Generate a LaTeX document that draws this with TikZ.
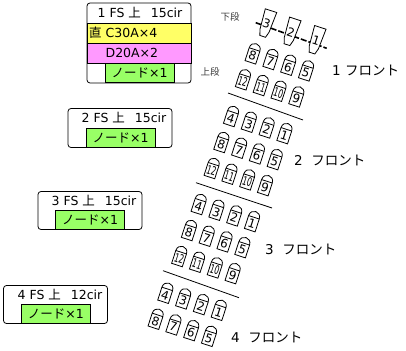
\documentclass[tikz,border=0pt]{standalone}
\usepackage{fontspec}
\setmainfont{DejaVu Sans}
\newfontfamily\jpfont{Noto Sans CJK JP}
\newcommand{\jp}[1]{{\jpfont #1}}
\newcommand{\seatnum}[1]{\ifnum#1>9 \scalebox{0.62}[1]{#1}\else #1\fi}
\tikzset{
  outerbox/.style={draw, rounded corners=3pt, minimum width=104pt, minimum height=#1, inner sep=0pt, line width=0.8pt},
  headtext/.style={font=\fontsize{12.5}{13}\selectfont, inner sep=0pt},
  rowbox/.style={draw, fill=#1, minimum width=104pt, minimum height=20pt, inner sep=0pt, text width=100pt, align=left, font=\fontsize{12.5}{13}\selectfont, line width=0.7pt},
  nodebox/.style={draw, fill=green1, minimum width=69pt, minimum height=19pt, inner sep=0pt, font=\fontsize{12.5}{13}\selectfont, line width=0.7pt},
  frontlabel/.style={font=\fontsize{13.5}{14}\selectfont, inner sep=0pt},
  steplabel/.style={font=\fontsize{9.5}{10}\selectfont, inner sep=0pt, text=black!75},
  pics/seat/.style={code={
      \draw [fill=white, line width=0.8pt] (-5.6, 9.5) -- (-5.6, -4) .. controls (-5.6, -12) and (5.6, -12) .. (5.6, -4) -- (5.6, 9.5) -- cycle;
      \draw [line width=0.8pt] (-5.6, -4) -- (5.6, -4);
      \node (-num) [transform shape, inner sep=0pt, font=\fontsize{12}{13}\selectfont] at (0, 2.5) {\seatnum{#1}};
  }},
  pics/topseat/.style={code={
      \draw [fill=white, line width=0.8pt] (-6, -14) -- (6, -14) -- (4.8, 7) -- (3, 13) -- (-3, 13) -- (-4.8, 7) -- cycle;
      \node (-num) [transform shape, inner sep=0pt, font=\fontsize{12}{13}\selectfont] at (0, 0) {#1};
  }},
}
\definecolor{green1}{HTML}{99FF66}
\definecolor{yellow1}{HTML}{FFFF66}
\definecolor{magenta1}{HTML}{FF99FF}
\begin{document}
\begin{tikzpicture}[x=1pt, y=-1pt]
  \useasboundingbox (0, 0) rectangle (406, 350);
  % circuit boxes
  \node (box1) [outerbox=80pt] at (139, 43) {};
  \node (head1) [headtext] at (140, 13) {1 FS \jp{上}\ \ \,15cir};
  \node (row1a) [rowbox=yellow1] at (139, 33) {\jp{直} C30A×4};
  \node (row1b) [rowbox=magenta1] at (139, 53) {\phantom{\jp{直}} D20A×2};
  \node (node1) [nodebox] at (139.5, 73) {\jp{ノード}×1};
  \node (box2) [outerbox=39pt] at (120, 128) {};
  \node (head2) [headtext] at (124, 118) {2 FS \jp{上}\ \ \,15cir};
  \node (node2) [nodebox] at (120.5, 138) {\jp{ノード}×1};
  \node (box3) [outerbox=38pt] at (90, 210.5) {};
  \node (head3) [headtext] at (94, 201) {3 FS \jp{上}\ \ \,15cir};
  \node (node3) [nodebox] at (90.2, 220) {\jp{ノード}×1};
  \node (box4) [outerbox=38pt] at (55.5, 304.5) {};
  \node (head4) [headtext] at (60, 295) {4 FS \jp{上}\ \ \,12cir};
  \node (node4) [nodebox] at (55.8, 314) {\jp{ノード}×1};
  % steps
  \node (lower) [steplabel] at (230, 17) {\jp{下段}};
  \node (upper) [steplabel] at (210, 72) {\jp{上段}};
  % lower step seats
  \coordinate (railA) at (255.7, 22.7);
  \coordinate (railB) at (326.7, 48.3);
  \draw [line width=1.6pt, dash pattern=on 6pt off 2pt] (railA) -- (railB);
  \pic (t3) [rotate=-18] at (266.7, 24) {topseat=3};
  \pic (t2) [rotate=-18] at (291, 32.3) {topseat=2};
  \pic (t1) [rotate=-18] at (316, 40.7) {topseat=1};
  % upper step seats
  \foreach \g/\gx/\gy/\first/\last in {1/263/27.3/5/12, 2/231.7/116/1/12, 3/199.3/204/1/12, 4/166/292.7/1/8} {
    \foreach \n in {\first, ..., \last} {
      \pgfmathsetmacro{\col}{3 - mod(\n - 1, 4)}
      \pgfmathsetmacro{\row}{int((\n - 1) / 4)}
      \pic (s\g-\n) [rotate=-18] at ({\gx + 17.8 * \col - 9.7 * \row}, {\gy + 5.7 * \col + 26 * \row}) {seat=\n};
    }
  }
  % front separators
  \coordinate (sep1a) at (228, 93);
  \coordinate (sep1b) at (303, 120);
  \coordinate (sep2a) at (196, 182.7);
  \coordinate (sep2b) at (272, 208);
  \coordinate (sep3a) at (163, 270.7);
  \coordinate (sep3b) at (239, 297.7);
  \draw [line width=0.8pt] (sep1a) -- (sep1b);
  \draw [line width=0.8pt] (sep2a) -- (sep2b);
  \draw [line width=0.8pt] (sep3a) -- (sep3b);
  % front names
  \node (front1) [frontlabel, anchor=west] at (332, 70) {1 \jp{フロント}};
  \node (front2) [frontlabel, anchor=west] at (294, 160) {2\ \ \jp{フロント}};
  \node (front3) [frontlabel, anchor=west] at (265, 249) {3\ \ \jp{フロント}};
  \node (front4) [frontlabel, anchor=west] at (231, 337) {4\ \ \jp{フロント}};
\end{tikzpicture}
\end{document}
